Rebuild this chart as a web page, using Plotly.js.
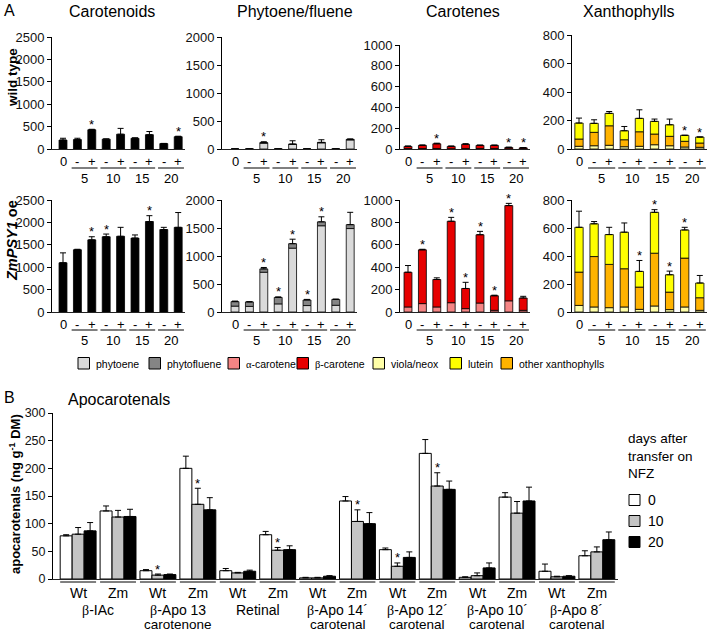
<!DOCTYPE html>
<html><head><meta charset="utf-8">
<script src="https://cdn.plot.ly/plotly-3.0.1.min.js"></script>
<style>html,body{margin:0;padding:0;background:#fff}</style>
</head><body><div id="chart" style="width:709px;height:634px"></div>
<script>
// ================= DATA =================
const timeLabels = ['0','-','+','-','+','-','+','-','+'];
const dayLabels = ['5','10','15','20'];
const panelTitles = ['Carotenoids','Phytoene/fluene','Carotenes','Xanthophylls'];
const rowLabels = ['<b>wild type</b>','<b><i>ZmPSY1</i> oe</b>'];
const legendNames = ['phytoene','phytofluene','α-carotene','β-carotene','viola/neox','lutein','other xanthophylls'];

// Carotenoids (total)
const caroWT = [200,210,430,220,330,240,320,120,275];
const caroWTerr = [40,30,10,5,130,10,70,5,10];
const caroWTsig = [0,0,1,0,0,0,0,0,1];
const caroOE = [1100,1390,1610,1680,1690,1650,2020,1840,1890];
const caroOEerr = [220,10,70,60,200,70,130,50,330];
const caroOEsig = [0,0,1,1,0,0,1,0,0];

// Phytoene / phytofluene
const phytoeneWT = [0,0,105,0,82,0,110,0,162];
const phytoflueneWT = [0,0,8,0,6,0,8,0,10];
const phytoWTerr = [0,0,17,0,59,0,47,0,8];
const phytoWTsig = [0,0,1,0,0,0,0,0,0];
const phytoeneOE = [105,100,710,145,1140,115,1540,120,1490];
const phytoflueneOE = [80,80,60,115,80,100,70,105,70];
const phytoOEerr = [10,5,25,10,80,10,90,5,220];
const phytoOEsig = [0,0,1,1,1,1,1,0,0];

// Carotenes
const alphaWT = [4,5,5,3,5,5,5,3,3];
const betaWT = [21,30,45,22,40,30,30,12,8];
const caroteneWTerr = [4,4,6,4,6,3,3,3,3];
const caroteneWTsig = [0,0,1,0,0,0,0,1,1];
const alphaOE = [45,75,45,83,30,80,15,100,15];
const betaOE = [310,480,245,727,180,610,130,850,110];
const caroteneOEerr = [60,5,15,35,55,30,5,20,15];
const caroteneOEsig = [0,1,0,1,1,1,1,1,0];

// Xanthophylls
const violaWT = [19,23,26,16,19,30,23,14,12];
const otherWT = [51,94,137,49,102,75,66,40,30];
const luteinWT = [112,63,87,63,94,89,81,42,42];
const xanthWTerr = [35,25,13,30,60,16,40,0,0];
const xanthWTsig = [0,0,0,0,0,0,0,1,1];
const violaOE = [47,36,31,36,19,43,17,36,12];
const otherOE = [238,360,309,273,159,377,125,349,90];
const luteinOE = [320,234,213,261,112,292,124,201,105];
const xanthOEerr = [115,16,52,66,78,19,26,19,54];
const xanthOEsig = [0,0,0,0,1,1,1,1,0];

// B: Apocarotenals (ng g-1 DM); order per compound: Wt, Zm
const compoundNames = ['β-IAc','β-Apo 13','Retinal','β-Apo 14´','β-Apo 12´','β-Apo 10´','β-Apo 8´'];
const compoundClass = ['','carotenone','','carotenal','carotenal','carotenal','carotenal'];
const genotypes = ['Wt','Zm'];
const dayNames = ['0','10','20'];
const day0 = [78,123, 15,200, 15,80, 2,141, 53,227, 3,148, 14,42];
const day0err = [2,9, 2,22, 4,6, 1,8, 3,25, 1,8, 13,9];
const day10 = [81,112, 7,135, 11,52, 2,104, 23,168, 6,119, 4,49];
const day10err = [12,12, 2,29, 1,5, 1,21, 6,24, 5,21, 1,9];
const day10sig = [0,0, 1,1, 0,1, 0,1, 1,1, 0,0, 0,0];
const day20 = [87,113, 8,125, 14,53, 5,100, 39,162, 20,141, 5,71];
const day20err = [15,13, 1,22, 2,7, 1,20, 10,15, 9,25, 1,14];

// ================= STYLE / LAYOUT =================
const W = 709, H = 634;
const px = x => x / W;
const py = y => 1 - y / H;
const FONT = 'Liberation Sans, Arial, Helvetica, sans-serif';
const greek = s => s.replace(/([αβ])/g, '<span style="font-family:Liberation Serif">$1</span>');
const C = {phytoene:'#dadada', phytofluene:'#858585', alpha:'#f58585', beta:'#e60000',
           viola:'#ffffa8', lutein:'#ffff00', other:'#ffb300', total:'#000000'};
const legendColors = [C.phytoene, C.phytofluene, C.alpha, C.beta, C.viola, C.lutein, C.other];
const dayColors = ['#ffffff', '#c4c4c4', '#000000'];

const cols = [
  {axis:52, first:63, sp:14.4, yMax:2500, dtick:500},
  {axis:222, first:235, sp:14.4, yMax:2000, dtick:500},
  {axis:400, first:408, sp:14.4, yMax:1000, dtick:200},
  {axis:572, first:579, sp:15.1, yMax:800, dtick:200}
];
const rows = [
  {base:149, tops:[37,37,45,35], lab:162, line:168, num:178},
  {base:312, tops:[200,200,200,200], lab:324, line:330, num:340}
];
const panelData = [
  [
    {series:[[caroWT, C.total]], err:caroWTerr, sig:caroWTsig},
    {series:[[phytoeneWT, C.phytoene],[phytoflueneWT, C.phytofluene]], err:phytoWTerr, sig:phytoWTsig},
    {series:[[alphaWT, C.alpha],[betaWT, C.beta]], err:caroteneWTerr, sig:caroteneWTsig},
    {series:[[violaWT, C.viola],[otherWT, C.other],[luteinWT, C.lutein]], err:xanthWTerr, sig:xanthWTsig}
  ],
  [
    {series:[[caroOE, C.total]], err:caroOEerr, sig:caroOEsig},
    {series:[[phytoeneOE, C.phytoene],[phytoflueneOE, C.phytofluene]], err:phytoOEerr, sig:phytoOEsig},
    {series:[[alphaOE, C.alpha],[betaOE, C.beta]], err:caroteneOEerr, sig:caroteneOEsig},
    {series:[[violaOE, C.viola],[otherOE, C.other],[luteinOE, C.lutein]], err:xanthOEerr, sig:xanthOEsig}
  ]
];

const traces = [];
const layout = {
  width:W, height:H, autosize:false, margin:{l:0,r:0,t:0,b:0},
  paper_bgcolor:'#ffffff', plot_bgcolor:'rgba(0,0,0,0)',
  font:{family:FONT, size:13, color:'#000'},
  barmode:'group', bargap:0.1, bargroupgap:0, showlegend:false,
  annotations:[], shapes:[]
};
const ann = (o) => layout.annotations.push(Object.assign({showarrow:false, font:{family:FONT, size:13, color:'#000'}}, o));

const xs = timeLabels.map((_, i) => i);
rows.forEach((row, r) => {
  cols.forEach((col, c) => {
    const p = r * 4 + c + 1;
    const xid = p === 1 ? 'x' : 'x' + p, yid = p === 1 ? 'y' : 'y' + p;
    const lo = -(col.first - col.axis) / col.sp;
    layout[p === 1 ? 'xaxis' : 'xaxis' + p] = {
      domain:[px(col.axis), px(col.axis + (8.5 - lo) * col.sp)], range:[lo, 8.5], anchor:yid,
      showline:true, linecolor:'#222', linewidth:1.2, ticks:'', showticklabels:false,
      showgrid:false, zeroline:false, fixedrange:true
    };
    layout[p === 1 ? 'yaxis' : 'yaxis' + p] = {
      domain:[py(row.base), py(row.tops[c])], range:[0, col.yMax], anchor:xid,
      dtick:col.dtick, tick0:0, showline:true, linecolor:'#000', linewidth:1,
      ticks:'outside', ticklen:4, tickcolor:'#000', tickfont:{size:13, color:'#111'},
      showgrid:false, zeroline:false, fixedrange:true
    };
    const pd = panelData[r][c];
    let cum = xs.map(() => 0);
    pd.series.forEach(([vals, color], k) => {
      const t = {
        type:'bar', x:xs, y:vals, base:cum.slice(), xaxis:xid, yaxis:yid,
        width:0.55, offset:-0.275, offsetgroup:'g' + p,
        marker:{color:color, line:{color:'#000', width:0.8}}, showlegend:false, hoverinfo:'skip'
      };
      if (k === pd.series.length - 1) {
        t.error_y = {type:'data', symmetric:false, array:pd.err, arrayminus:xs.map(() => 0),
                     color:'#000', thickness:1, width:3};
      }
      traces.push(t);
      cum = cum.map((v, i) => v + vals[i]);
    });
    // significance stars
    pd.sig.forEach((s, i) => {
      if (s) ann({xref:xid, yref:yid, x:i, y:cum[i] + pd.err[i], text:'*', yanchor:'middle', yshift:5,
                  font:{family:FONT, size:13, color:'#000'}});
    });
    // x labels
    timeLabels.forEach((t, i) => ann({xref:xid, yref:'paper', x:i, y:py(row.lab), text:t, yanchor:'middle'}));
    dayLabels.forEach((d, k) => {
      layout.shapes.push({type:'line', xref:xid, yref:'paper', x0:2*k + 1 - 0.4, x1:2*k + 2 + 0.4,
                          y0:py(row.line), y1:py(row.line), line:{color:'#000', width:1}});
      ann({xref:xid, yref:'paper', x:2*k + 1.5, y:py(row.num), text:d, yanchor:'middle'});
    });
  });
});

// Panel titles and row labels
const titleX = [112, 295, 463, 629];
panelTitles.forEach((t, c) => ann({xref:'paper', yref:'paper', x:px(titleX[c]), y:py(11), text:t,
  xanchor:'center', yanchor:'middle', font:{family:FONT, size:16, color:'#000'}}));
ann({xref:'paper', yref:'paper', x:px(2), y:py(10), text:'A', xanchor:'left', yanchor:'middle', font:{family:FONT, size:16, color:'#000'}});
ann({xref:'paper', yref:'paper', x:px(12), y:py(78), text:rowLabels[0], textangle:-90, xanchor:'center', yanchor:'middle', font:{family:FONT, size:13.5, color:'#000'}});
ann({xref:'paper', yref:'paper', x:px(12), y:py(241), text:rowLabels[1], textangle:-90, xanchor:'center', yanchor:'middle', font:{family:FONT, size:14.5, color:'#000'}});

// Legend A (drawn swatches)
const legSw = [78, 149, 228, 297, 373, 450, 501];
legendNames.forEach((n, i) => {
  layout.shapes.push({type:'rect', xref:'paper', yref:'paper', x0:px(legSw[i]), x1:px(legSw[i] + 11.5),
    y0:py(369), y1:py(357.5), fillcolor:legendColors[i], line:{color:'#000', width:1}});
  ann({xref:'paper', yref:'paper', x:px(legSw[i] + 16), y:py(363.5), text:greek(n), xanchor:'left', yanchor:'middle',
       font:{family:FONT, size:10.5, color:'#000'}});
});

// ================= PANEL B =================
const bx = day0.map((_, i) => i);
layout.xaxis9 = {domain:[px(53), px(618)], range:[-0.63, 13.53], anchor:'y9', showline:true, linecolor:'#222', linewidth:1.2,
  ticks:'', showticklabels:false, showgrid:false, zeroline:false, fixedrange:true};
layout.yaxis9 = {domain:[py(579), py(413)], range:[0, 300], dtick:50, anchor:'x9', showline:true, linecolor:'#000', linewidth:1,
  ticks:'outside', ticklen:4, tickcolor:'#000', tickfont:{size:12.5, color:'#111'}, showgrid:false, zeroline:false, fixedrange:true};
[[day0, day0err],[day10, day10err],[day20, day20err]].forEach(([v, e], j) => {
  traces.push({type:'bar', name:dayNames[j], x:bx, y:v, xaxis:'x9', yaxis:'y9',
    marker:{color:dayColors[j], line:{color:'#000', width:1}}, showlegend:false, hoverinfo:'skip',
    error_y:{type:'data', symmetric:false, array:e, arrayminus:e.map(() => 0), color:'#000', thickness:1, width:3}});
});
day10sig.forEach((s, i) => {
  if (s) ann({xref:'x9', yref:'y9', x:i, y:day10[i] + day10err[i], text:'*', yanchor:'middle', yshift:5});
});
bx.forEach(i => {
  layout.shapes.push({type:'line', xref:'x9', yref:'paper', x0:i - 0.45, x1:i + 0.45, y0:py(582), y1:py(582), line:{color:'#000', width:1}});
  ann({xref:'x9', yref:'paper', x:i, y:py(593), text:genotypes[i % 2], yanchor:'middle', font:{family:FONT, size:14, color:'#000'}});
});
compoundNames.forEach((n, k) => {
  ann({xref:'x9', yref:'paper', x:2*k + 0.5, y:py(610), text:greek(n), yanchor:'middle', font:{family:FONT, size:14, color:'#000'}});
  if (compoundClass[k]) ann({xref:'x9', yref:'paper', x:2*k + 0.5, y:py(624), text:compoundClass[k], yanchor:'middle', font:{family:FONT, size:13.5, color:'#000'}});
});
ann({xref:'paper', yref:'paper', x:px(2), y:py(397), text:'B', xanchor:'left', yanchor:'middle', font:{family:FONT, size:16, color:'#000'}});
ann({xref:'paper', yref:'paper', x:px(66), y:py(399), text:'Apocarotenals', xanchor:'left', yanchor:'middle', font:{family:FONT, size:16, color:'#000'}});
ann({xref:'paper', yref:'paper', x:px(15), y:py(494), text:'<b>apocarotenals (ng g<sup>-1</sup> DM)</b>', textangle:-90,
     xanchor:'center', yanchor:'middle', font:{family:FONT, size:13, color:'#000'}});
// Legend B (drawn swatches)
ann({xref:'paper', yref:'paper', x:px(626), y:py(456), text:'days after<br>transfer on<br>NFZ', xanchor:'left', yanchor:'middle', align:'left',
     font:{family:FONT, size:13.5, color:'#000'}});
const legBy = [500, 521, 542];
dayNames.forEach((d, j) => {
  layout.shapes.push({type:'rect', xref:'paper', yref:'paper', x0:px(629), x1:px(640), y0:py(legBy[j] + 5.5), y1:py(legBy[j] - 5.5),
    fillcolor:dayColors[j], line:{color:'#000', width:1}});
  ann({xref:'paper', yref:'paper', x:px(646), y:py(legBy[j]), text:d, xanchor:'left', yanchor:'middle', font:{family:FONT, size:14, color:'#000'}});
});

Plotly.newPlot('chart', traces, layout, {displayModeBar:false, staticPlot:true});
</script></body></html>
